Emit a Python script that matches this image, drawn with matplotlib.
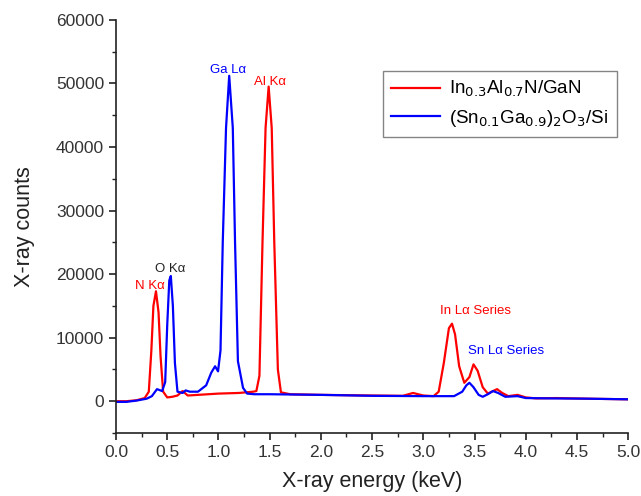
import numpy as np
import matplotlib.pyplot as plt
from matplotlib.ticker import MultipleLocator

plt.rcParams['font.family'] = ['Liberation Sans', 'DejaVu Sans']

# In0.3Al0.7N/GaN spectrum
red_x = [0.0, 0.1, 0.2, 0.28, 0.32, 0.345, 0.365, 0.39, 0.415, 0.435, 0.46, 0.5, 0.55,
         0.6, 0.65, 0.7, 0.8, 1.0, 1.2, 1.34, 1.37, 1.40, 1.43, 1.46, 1.49, 1.52,
         1.545, 1.58, 1.61, 1.7, 2.0, 2.5, 2.8, 2.9, 3.0, 3.1, 3.15, 3.2, 3.25, 3.28,
         3.31, 3.35, 3.4, 3.45, 3.49, 3.53, 3.58, 3.63, 3.68, 3.72, 3.77, 3.83,
         3.92, 4.0, 4.1, 4.3, 4.6, 5.0]
red_y = [0, 0, 150, 500, 1500, 8000, 15000, 17300, 14000, 7000, 1500, 600, 700,
         900, 1600, 900, 1000, 1200, 1300, 1500, 1600, 4000, 25000, 43000, 49500, 43000,
         25000, 5000, 1400, 1100, 1000, 900, 850, 1300, 900, 800, 1500, 6000,
         11500, 12200, 10500, 5500, 2900, 3800, 5800, 4800, 2200, 1200, 1600,
         1900, 1300, 800, 1000, 600, 450, 500, 400, 300]

# (Sn0.1Ga0.9)2O3/Si spectrum
blue_x = [0.0, 0.1, 0.2, 0.3, 0.35, 0.4, 0.45, 0.48, 0.5, 0.52, 0.535, 0.555, 0.575,
          0.6, 0.65, 0.68, 0.72, 0.8, 0.88, 0.93, 0.967, 0.996, 1.02, 1.042, 1.074,
          1.105, 1.14, 1.162, 1.19, 1.24, 1.28, 1.35, 1.5, 2.0, 2.5, 3.0, 3.3, 3.38,
          3.42, 3.45, 3.49, 3.54, 3.58, 3.63, 3.68, 3.73, 3.8, 3.92, 4.0, 4.2,
          4.6, 5.0]
blue_y = [-100, -100, 100, 400, 800, 1900, 1600, 3000, 12000, 19000, 19700, 15000,
          6000, 1500, 1300, 1700, 1500, 1500, 2500, 4500, 5500, 4700, 8000, 25000,
          43000, 51200, 43000, 25000, 6300, 2100, 1200, 1100, 1100, 1000, 850, 800,
          800, 1500, 2500, 2900, 2200, 1000, 700, 1100, 1600, 1300, 700, 800, 500,
          450, 400, 300]

peak_labels = ["Ga Lα", "Al Kα", "O Kα", "N Kα", "In Lα Series", "Sn Lα Series"]
peak_x = [1.094, 1.504, 0.527, 0.332, 3.506, 3.81]
peak_y = [52100, 50200, 20800, 18200, 14200, 7900]
peak_colors = ["blue", "red", "#222222", "red", "red", "blue"]

fig = plt.figure(figsize=(6.41, 4.96), dpi=100)
ax = fig.add_axes([0.181, 0.127, 0.799, 0.833])

ax.plot(red_x, red_y, color="red", lw=1.6, label="In$_{0.3}$Al$_{0.7}$N/GaN")
ax.plot(blue_x, blue_y, color="blue", lw=1.6, label="(Sn$_{0.1}$Ga$_{0.9}$)$_2$O$_3$/Si")

for t, x, y, c in zip(peak_labels, peak_x, peak_y, peak_colors):
    ax.text(x, y, t, color=c, fontsize=9.5, ha="center", va="center")

ax.set_xlim(0, 5.0)
ax.set_ylim(-5000, 60000)
ax.xaxis.set_major_locator(MultipleLocator(0.5))
ax.xaxis.set_minor_locator(MultipleLocator(0.25))
ax.set_yticks(range(0, 60001, 10000))
ax.yaxis.set_minor_locator(MultipleLocator(5000))
ax.tick_params(which="major", direction="out", length=5, width=1.2, labelsize=12.5,
               colors="#222222", labelcolor="#333333")
ax.tick_params(which="minor", direction="out", length=3, width=1.0, colors="#222222")
for s in ["top", "right"]:
    ax.spines[s].set_visible(False)
for s in ["left", "bottom"]:
    ax.spines[s].set_linewidth(1.2)
    ax.spines[s].set_color("#222222")

ax.set_xlabel("X-ray energy (keV)", fontsize=15.5, labelpad=8, color="#222222")
ax.set_ylabel("X-ray counts", fontsize=15.5, labelpad=15, color="#222222")

leg = ax.legend(loc="upper right", bbox_to_anchor=(0.978, 0.877), borderaxespad=0,
                fontsize=13.5, fancybox=False, edgecolor="#666666", handlelength=2.6,
                borderpad=0.45, labelspacing=0.45, handletextpad=0.5)
leg.get_frame().set_linewidth(1.0)

fig.savefig("out.png", dpi=100)
